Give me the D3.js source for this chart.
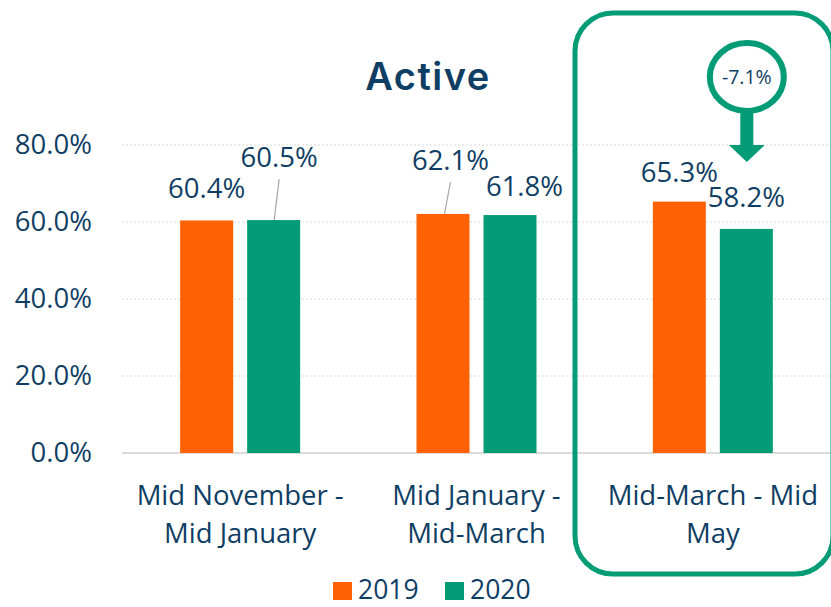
<!DOCTYPE html>
<html><head><meta charset="utf-8">
<script src="https://cdn.jsdelivr.net/npm/d3@7"></script>
<style>body{margin:0;background:#fff}svg{display:block}</style>
</head><body>
<svg id="c" width="831" height="607"></svg>
<script>
const categories = [["Mid November -","Mid January"],["Mid January -","Mid-March"],["Mid-March - Mid","May"]];
const seriesNames = ["2019","2020"];
const values2019 = [60.4, 62.1, 65.3];
const values2020 = [60.5, 61.8, 58.2];
const yTicks = [0, 20, 40, 60, 80];
const changeLabel = "-7.1%";
const title = "Active";

const colors = ["#FF6103","#039C76"];
const navy = "#0F3E64";
const svg = d3.select("#c");
const m = {l:122, r:831, t:145, b:453};
const x = d3.scaleBand().domain(d3.range(categories.length)).range([m.l, m.r]);
const y = d3.scaleLinear().domain([0,80]).range([m.b, m.t]);
const font = "'Open Sans', 'Noto Sans', sans-serif";
const fs = 27.5;

// gridlines
svg.append("g").selectAll("line").data(yTicks.filter(d=>d>0)).join("line")
  .attr("x1", m.l).attr("x2", m.r).attr("y1", d=>y(d)).attr("y2", d=>y(d))
  .attr("stroke","#d9d9d9").attr("stroke-width",1).attr("stroke-dasharray","2,2");
svg.append("line").attr("x1",m.l).attr("x2",m.r).attr("y1",y(0)).attr("y2",y(0))
  .attr("stroke","#cfcfcf").attr("stroke-width",1.5);

// y axis labels
const yAxis = d3.axisLeft(y).tickValues(yTicks).tickFormat(d=>d.toFixed(1)+"%").tickSize(0).tickPadding(30);
const ya = svg.append("g").attr("transform",`translate(${m.l},0)`).call(yAxis);
ya.select(".domain").remove();
ya.selectAll("text").attr("font-family",font).attr("font-size",fs).attr("fill",navy);

// bars
const barW = 53, gap = 14;
const sub = d3.scaleOrdinal().domain([0,1]).range([-(barW/2+gap/2), (barW/2+gap/2)]);
const data = [];
categories.forEach((c,i)=>{
  data.push({i, s:0, v:values2019[i]});
  data.push({i, s:1, v:values2020[i]});
});
svg.append("g").selectAll("rect").data(data).join("rect")
  .attr("x", d=>x(d.i)+x.bandwidth()/2+sub(d.s)-barW/2)
  .attr("width", barW)
  .attr("y", d=>y(d.v)).attr("height", d=>y(0)-y(d.v))
  .attr("fill", d=>colors[d.s]);

// data labels (offsets for overlap avoidance)
const labelOff = {"0-0":[0,-22],"0-1":[5.5,-53],"1-0":[7.5,-44],"1-1":[14.5,-19],"2-0":[0,-20],"2-1":[0,-22]};
const leaders = {"0-1":true,"1-0":true};
data.forEach(d=>{
  const cx = x(d.i)+x.bandwidth()/2+sub(d.s);
  const o = labelOff[d.i+"-"+d.s];
  const tx = cx+o[0], ty = y(d.v)+o[1];
  if (leaders[d.i+"-"+d.s]) {
    svg.append("line").attr("x1",tx).attr("y1",ty+12).attr("x2",tx-(d.s===0?6:5)).attr("y2",y(d.v))
      .attr("stroke","#a6a6a6").attr("stroke-width",1.2);
  }
  svg.append("text").attr("x",tx).attr("y",ty).attr("text-anchor","middle")
    .attr("font-family",font).attr("font-size",fs).attr("fill",navy)
    .text(d.v.toFixed(1)+"%");
});

// category labels
categories.forEach((c,i)=>{
  const t = svg.append("text").attr("text-anchor","middle").attr("font-family",font)
    .attr("font-size",fs).attr("fill",navy);
  c.forEach((line,k)=>t.append("tspan").attr("x",x(i)+x.bandwidth()/2).attr("y",505+k*38).text(line));
});

// title
svg.append("text").attr("x",428).attr("y",90).attr("text-anchor","middle")
  .attr("font-family","Inter, Lato, sans-serif").attr("font-weight",600).attr("font-size",38)
  .attr("letter-spacing",1.5).attr("fill",navy).text(title);

// legend
const lg = svg.append("g");
seriesNames.forEach((s,k)=>{
  const lx = 333 + k*112;
  lg.append("rect").attr("x",lx).attr("y",582).attr("width",19).attr("height",18).attr("fill",colors[k]);
  lg.append("text").attr("x",lx+25).attr("y",599).attr("font-family",font).attr("font-size",26.5)
    .attr("fill",navy).text(s);
});

// highlight box
svg.append("rect").attr("x",575).attr("y",13).attr("width",258).attr("height",561)
  .attr("rx",38).attr("ry",38).attr("fill","none").attr("stroke",colors[1]).attr("stroke-width",5);

// callout
const ccx = x(2)+x.bandwidth()/2+sub(1)+0.5;
svg.append("rect").attr("x",ccx-6.5).attr("y",108).attr("width",13).attr("height",40).attr("fill",colors[1]);
svg.append("path").attr("d",`M${ccx-18},145 L${ccx+18},145 L${ccx},162 Z`).attr("fill",colors[1]);
svg.append("ellipse").attr("cx",ccx).attr("cy",77).attr("rx",37).attr("ry",34)
  .attr("fill","#fff").attr("stroke",colors[1]).attr("stroke-width",6);
svg.append("text").attr("x",ccx).attr("y",84).attr("text-anchor","middle")
  .attr("font-family",font).attr("font-size",19.5).attr("fill",navy).text(changeLabel);
</script>
</body></html>
